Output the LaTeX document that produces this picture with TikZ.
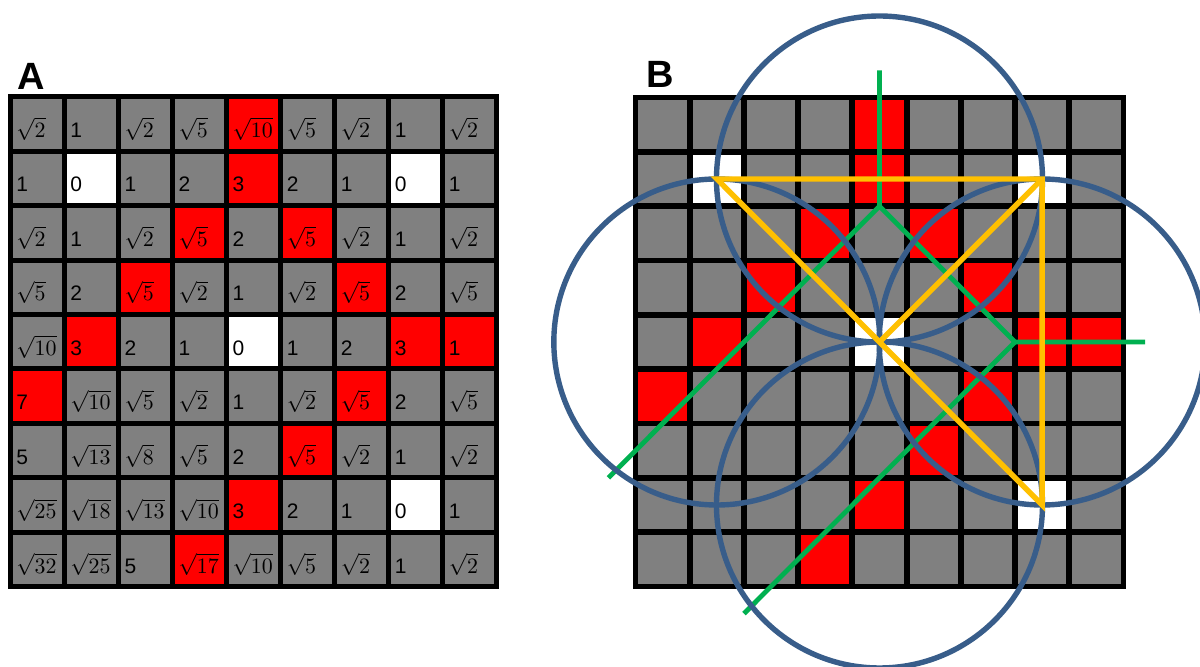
\documentclass[tikz,border=0pt]{standalone}
\usepackage{fontspec}
\setmainfont{Liberation Sans}
\usetikzlibrary{calc}
\definecolor{cg}{RGB}{128,128,128}
\definecolor{cr}{RGB}{255,0,0}
\definecolor{cw}{RGB}{255,255,255}
\definecolor{circblue}{RGB}{56,93,138}
\definecolor{lgreen}{RGB}{0,176,80}
\definecolor{lyellow}{RGB}{255,192,0}
\begin{document}
\begin{tikzpicture}[x=0.5pt,y=-0.5pt,
  cellA/.style={rectangle,draw=black,line width=2.5pt,minimum width=27.035pt,minimum height=27.225pt,inner sep=0pt,outer sep=0pt},
  cellB/.style={rectangle,draw=black,line width=2.9pt,minimum width=27.11pt,minimum height=27.165pt,inner sep=0pt,outer sep=0pt},
  celltext/.style={anchor=base west,inner sep=0pt,font=\fontsize{10.5}{12}\selectfont},
  panel/.style={anchor=base west,inner sep=0pt,font=\fontsize{19}{21}\selectfont\bfseries},
  circ/.style={draw=circblue,line width=2.7pt},
  gline/.style={draw=lgreen,line width=2.4pt},
  yline/.style={draw=lyellow,line width=2.7pt,line join=miter}]
\useasboundingbox (0,0) rectangle (1200,666);
\clip (0,0) rectangle (1200,666);
% panel labels
\node[panel] (lblA) at (17,89) {A};
\node[panel] (lblB) at (646,87) {B};
% grid A
\foreach \r/\cols in {
 0/{g/$\sqrt{2}$,g/1,g/$\sqrt{2}$,g/$\sqrt{5}$,r/$\sqrt{10}$,g/$\sqrt{5}$,g/$\sqrt{2}$,g/1,g/$\sqrt{2}$},
 1/{g/1,w/0,g/1,g/2,r/3,g/2,g/1,w/0,g/1},
 2/{g/$\sqrt{2}$,g/1,g/$\sqrt{2}$,r/$\sqrt{5}$,g/2,r/$\sqrt{5}$,g/$\sqrt{2}$,g/1,g/$\sqrt{2}$},
 3/{g/$\sqrt{5}$,g/2,r/$\sqrt{5}$,g/$\sqrt{2}$,g/1,g/$\sqrt{2}$,r/$\sqrt{5}$,g/2,g/$\sqrt{5}$},
 4/{g/$\sqrt{10}$,r/3,g/2,g/1,w/0,g/1,g/2,r/3,r/1},
 5/{r/7,g/$\sqrt{10}$,g/$\sqrt{5}$,g/$\sqrt{2}$,g/1,g/$\sqrt{2}$,r/$\sqrt{5}$,g/2,g/$\sqrt{5}$},
 6/{g/5,g/$\sqrt{13}$,g/$\sqrt{8}$,g/$\sqrt{5}$,g/2,r/$\sqrt{5}$,g/$\sqrt{2}$,g/1,g/$\sqrt{2}$},
 7/{g/$\sqrt{25}$,g/$\sqrt{18}$,g/$\sqrt{13}$,g/$\sqrt{10}$,r/3,g/2,g/1,w/0,g/1},
 8/{g/$\sqrt{32}$,g/$\sqrt{25}$,g/5,r/$\sqrt{17}$,g/$\sqrt{10}$,g/$\sqrt{5}$,g/$\sqrt{2}$,g/1,g/$\sqrt{2}$}}
{
  \foreach[count=\ci from 0] \f/\t in \cols {
    \node[cellA,fill=c\f] (A-\r-\ci) at ({10+54.07*(\ci+0.5)},{96.7+54.45*(\r+0.5)}) {};
    \node[celltext] (At-\r-\ci) at ($(A-\r-\ci.west)+(6,13.5)$) {\t};
  }
}
% grid B
\foreach \r/\cols in {
 0/{g,g,g,g,r,g,g,g,g},
 1/{g,w,g,g,r,g,g,w,g},
 2/{g,g,g,r,g,r,g,g,g},
 3/{g,g,r,g,g,g,r,g,g},
 4/{g,r,g,g,w,g,g,r,r},
 5/{r,g,g,g,g,g,r,g,g},
 6/{g,g,g,g,g,r,g,g,g},
 7/{g,g,g,g,r,g,g,w,g},
 8/{g,g,g,r,g,g,g,g,g}}
{
  \foreach[count=\ci from 0] \f in \cols {
    \node[cellB,fill=c\f] (B-\r-\ci) at ({635.5+54.22*(\ci+0.5)},{97.5+54.33*(\r+0.5)}) {};
  }
}
% green construction lines
\coordinate (gtop) at ($(B-0-4.north)+(0,-27.2)$);
\coordinate (J1) at (B-1-4.south);
\coordinate (gleft) at ($(B-7-0.north west)+(-27.1,0)$);
\coordinate (J2) at (B-4-7.west);
\coordinate (gright) at ($(B-4-8.east)+(21.7,0)$);
\coordinate (gbot) at ($(B-8-2.south west)+(0,27.2)$);
\draw[gline] (gtop) -- (J1) -- (gleft);
\draw[gline] (J1) -- (J2) -- (gright);
\draw[gline] (J2) -- (gbot);
% circles
\draw[circ] (B-1-4.center) circle[radius=163];
\draw[circ] (B-4-1.center) circle[radius=163];
\draw[circ] (B-4-7.center) circle[radius=163];
\draw[circ] (B-7-4.center) circle[radius=163];
% yellow triangle
\draw[yline] (B-1-1.center) -- (B-1-7.center) -- (B-7-7.center) -- cycle;
\draw[yline] (B-1-7.center) -- (B-4-4.center);
\end{tikzpicture}
\end{document}
